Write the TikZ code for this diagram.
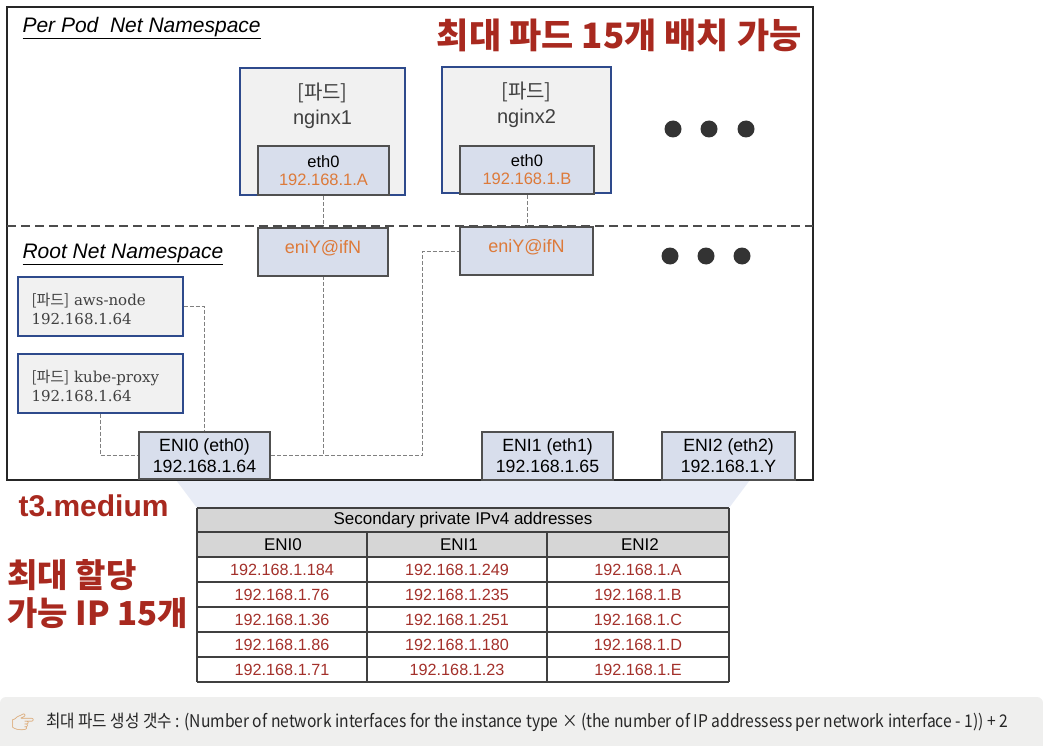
\documentclass[tikz,border=0pt]{standalone}
\usepackage{fontspec}
\setmainfont{Liberation Sans}
\newfontfamily\kr{Noto Sans CJK KR}
\newfontfamily\serif{DejaVu Serif}
\newfontfamily\emoji{Noto Emoji}
\definecolor{kred}{HTML}{A8291F}
\definecolor{datared}{HTML}{A3302A}
\definecolor{podfill}{HTML}{F1F1F1}
\definecolor{podline}{HTML}{2E4A8C}
\definecolor{iffill}{HTML}{D8DEEC}
\definecolor{ifline}{HTML}{505050}
\definecolor{orangetxt}{HTML}{DD7A3A}
\definecolor{txtgray}{HTML}{404040}
\definecolor{conncol}{HTML}{808080}
\definecolor{fan}{HTML}{E8ECF6}
\definecolor{hdr}{HTML}{D6D6D6}
\definecolor{band}{HTML}{EFEFEE}
\definecolor{dotc}{HTML}{333333}
\definecolor{skin}{HTML}{D9A066}
\tikzset{
  podbox/.style={draw=podline, fill=podfill, line width=1.1pt, inner sep=0pt},
  podtxt/.style={align=center, text=txtgray, font=\fontsize{20}{25}\selectfont},
  ifbox/.style={draw=ifline, fill=iffill, line width=2pt, inner sep=0pt, align=center},
  ethtxt/.style={font=\fontsize{16.5}{18}\selectfont},
  enitxt/.style={font=\fontsize{17.7}{21}\selectfont},
  svctxt/.style={align=left, text=txtgray, font=\serif\fontsize{15}{19}\selectfont},
  conn/.style={draw=conncol, line width=1pt, dash pattern=on 4pt off 2pt},
  nslabel/.style={anchor=west, font=\itshape\fontsize{21}{24}\selectfont},
  bigred/.style={text=kred, font=\kr\bfseries\fontsize{33}{38}\selectfont},
  celltxt/.style={font=\fontsize{17}{18}\selectfont},
  datatxt/.style={text=datared, font=\fontsize{16.2}{18}\selectfont},
  tblline/.style={draw=black!75, line width=1.4pt},
}
\begin{document}
\begin{tikzpicture}[x=1pt,y=-1pt]
\useasboundingbox (0,0) rectangle (1043,746);
% bottom band
\fill[band] (0,746) {[rounded corners=6pt] -- (0,697) -- (1043,697)} -- (1043,746) -- cycle;
% fan behind table
\fill[fan] (176,480) -- (750,480) -- (729,508) -- (197,508) -- cycle;
% outer frame
\draw[line width=1.6pt, black!85] (7,7) rectangle (813,480);
\draw[line width=2.4pt, black!70, dash pattern=on 9pt off 5pt] (7,226) -- (813,226);
% namespace labels
\node[nslabel] (perpod) at (19,28) {\underline{Per Pod\ \ Net Namespace}};
\node[nslabel] (rootns) at (19,254) {\underline{Root Net Namespace}};
\node[bigred, anchor=east, font=\kr\bfseries\fontsize{35}{38}\selectfont] (title) at (805,35) {최대 파드 15개 배치 가능};
% pods
\node[podbox, minimum width=165pt, minimum height=127pt] (pod1) at (322.5,131.5) {};
\node[podtxt] (pod1t) at (322.5,106) {{\kr [파드]}\\nginx1};
\node[podbox, minimum width=169pt, minimum height=126pt] (pod2) at (526.5,130) {};
\node[podtxt] (pod2t) at (526.5,105) {{\kr [파드]}\\nginx2};
\node[ifbox, ethtxt, minimum width=131pt, minimum height=49pt] (eth1) at (323.5,170.5) {eth0\\\textcolor{orangetxt}{192.168.1.A}};
\node[ifbox, ethtxt, minimum width=134pt, minimum height=48pt] (eth2) at (527,170) {eth0\\\textcolor{orangetxt}{192.168.1.B}};
% dots
\fill[dotc] (673,129) circle (8.5pt) (709,129) circle (8.5pt) (746,129) circle (8.5pt);
\fill[dotc] (670,256) circle (8.5pt) (706,256) circle (8.5pt) (742,256) circle (8.5pt);
% veth
\node[ifbox, minimum width=130pt, minimum height=48pt] (enia) at (323,252) {};
\node[ethtxt, text=orangetxt, font=\fontsize{18}{20}\selectfont] (eniat) at (323,248) {eniY@ifN};
\node[ifbox, minimum width=133pt, minimum height=48pt] (enib) at (526.5,251) {};
\node[ethtxt, text=orangetxt, font=\fontsize{18}{20}\selectfont] (enibt) at (526.5,247) {eniY@ifN};
% host pods
\node[podbox, minimum width=165pt, minimum height=59pt] (aws) at (100.5,306.5) {};
\node[svctxt, anchor=west] (awst) at (28,309) {{\kr[파드]} aws-node\\192.168.1.64};
\node[podbox, minimum width=165pt, minimum height=59pt] (kube) at (100.5,383.5) {};
\node[svctxt, anchor=west] (kubet) at (28,386) {{\kr[파드]} kube-proxy\\192.168.1.64};
% ENIs
\node[ifbox, enitxt, minimum width=131pt, minimum height=47pt] (eni0) at (204.5,455.5) {ENI0 (eth0)\\192.168.1.64};
\node[ifbox, enitxt, minimum width=131pt, minimum height=48pt] (eni1) at (547.5,456) {ENI1 (eth1)\\192.168.1.65};
\node[ifbox, enitxt, minimum width=133pt, minimum height=48pt] (eni2) at (728.5,456) {ENI2 (eth2)\\192.168.1.Y};
% connectors
\coordinate (bend) at (422,455.5);
\draw[conn] (eth1.south) -- (eth1.south |- enia.north);
\draw[conn] (eth2.south) -- (eth2.south |- enib.north);
\draw[conn] (eni0.east) -| (enia.south);
\draw[conn] (eni0.east) -- (bend) |- (enib.west);
\draw[conn] (aws.east) -| (eni0.north);
\draw[conn] (kube.south) |- (eni0.west);
% table
\fill[hdr] (197,508) rectangle (729,557);
\foreach \yy in {508,532,557,582,607,632,657,682} \draw[tblline] (197,\yy) -- (729,\yy);
\draw[tblline] (197,508) -- (197,682);
\draw[tblline] (729,508) -- (729,682);
\draw[tblline] (367,532) -- (367,682);
\draw[tblline] (547,532) -- (547,682);
\node[celltxt] (th) at (463,520.5) {Secondary private IPv4 addresses};
\node[celltxt] (c0) at (283,545) {ENI0};
\node[celltxt] (c1) at (459,545) {ENI1};
\node[celltxt] (c2) at (640,545) {ENI2};
\node[datatxt] (a1) at (282,569.5) {192.168.1.184};
\node[datatxt] (a2) at (282,594.5) {192.168.1.76};
\node[datatxt] (a3) at (282,619.5) {192.168.1.36};
\node[datatxt] (a4) at (282,644.5) {192.168.1.86};
\node[datatxt] (a5) at (282,669.5) {192.168.1.71};
\node[datatxt] (b1) at (457,569.5) {192.168.1.249};
\node[datatxt] (b2) at (457,594.5) {192.168.1.235};
\node[datatxt] (b3) at (457,619.5) {192.168.1.251};
\node[datatxt] (b4) at (457,644.5) {192.168.1.180};
\node[datatxt] (b5) at (457,669.5) {192.168.1.23};
\node[datatxt] (d1) at (638,569.5) {192.168.1.A};
\node[datatxt] (d2) at (638,594.5) {192.168.1.B};
\node[datatxt] (d3) at (638,619.5) {192.168.1.C};
\node[datatxt] (d4) at (638,644.5) {192.168.1.D};
\node[datatxt] (d5) at (638,669.5) {192.168.1.E};
% left labels
\node[anchor=west, text=kred, font=\bfseries\fontsize{30}{34}\selectfont] (t3) at (15,506) {t3.medium};
\node[bigred, anchor=west, align=left, font=\kr\bfseries\fontsize{33}{38}\selectfont] (maxip) at (4,594) {최대 할당\\가능 IP 15개};
% bottom note
\node[text=skin, font=\emoji\fontsize{18}{18}\selectfont] (hand) at (23,722) {👉};
\node[anchor=west, text=black!85, inner sep=0pt] (note) at (46,722) {\resizebox{962pt}{\height}{\kr\fontsize{17.5}{17.5}\selectfont 최대 파드 생성 갯수 : (Number of network interfaces for the instance type × (the number of IP addressess per network interface - 1)) + 2}};
\end{tikzpicture}
\end{document}
